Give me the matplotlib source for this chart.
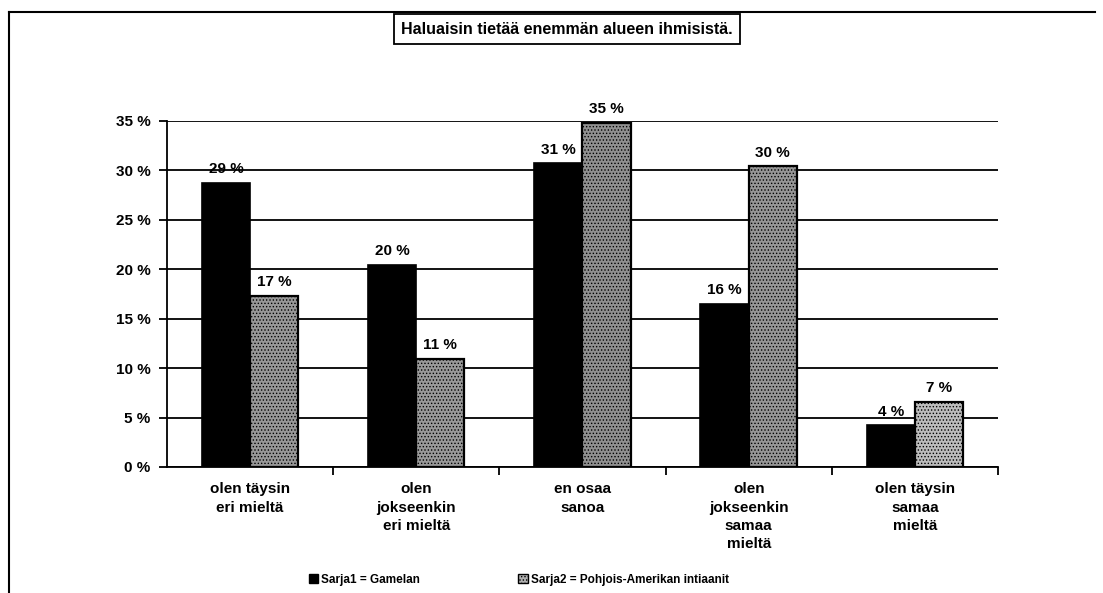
import matplotlib
matplotlib.use("Agg")
import matplotlib.pyplot as plt
from matplotlib.lines import Line2D
from matplotlib.patches import Patch
from matplotlib.ticker import FixedLocator, FuncFormatter
import numpy as np

plt.rcParams['font.family'] = ['Liberation Sans', 'DejaVu Sans']
plt.rcParams['font.weight'] = 'bold'
plt.rcParams['hatch.linewidth'] = 0.6

title = "Haluaisin tietää enemmän alueen ihmisistä."
categories = [
    "olen täysin\neri mieltä",
    "olen\njokseenkin\neri mieltä",
    "en osaa\nsanoa",
    "olen\njokseenkin\nsamaa\nmieltä",
    "olen täysin\nsamaa\nmieltä",
]
series_names = ["Sarja1 = Gamelan", "Sarja2 = Pohjois-Amerikan intiaanit"]
sarja1 = [28.7, 20.4, 30.7, 16.5, 4.2]
sarja2 = [17.3, 10.9, 34.8, 30.4, 6.6]
y_ticks = [0, 5, 10, 15, 20, 25, 30, 35]

fig = plt.figure(figsize=(11.03, 5.93), dpi=100)
fig.patch.set_facecolor('white')
ax = fig.add_axes([0.1514, 0.2125, 0.7534, 0.5835])

x = np.arange(len(categories))
w = 0.29
gray_faces = ['#989898', '#999999', '#909090', '#969696', '#bcbcbc']

b1 = ax.bar(x - w / 2, sarja1, width=w, color='black', edgecolor='black',
            linewidth=1.2, zorder=3)
b2 = ax.bar(x + w / 2, sarja2, width=w, color=gray_faces, edgecolor='black',
            linewidth=1.6, hatch='.....', zorder=3)

# value labels above every bar
for bars, vals in ((b1, sarja1), (b2, sarja2)):
    for bar, v in zip(bars, vals):
        ax.annotate(f"{v:.0f} %", (bar.get_x() + bar.get_width() / 2, v),
                    xytext=(0, 5), textcoords='offset points',
                    ha='center', va='bottom', fontsize=11, fontweight='bold')

ax.set_xlim(-0.5, len(categories) - 0.5)
ax.set_ylim(0, 35)
ax.yaxis.set_major_locator(FixedLocator(y_ticks))
ax.yaxis.set_major_formatter(FuncFormatter(lambda v, _: f"{v:.0f} %"))
ax.yaxis.grid(True, color='black', linewidth=1.3)
ax.set_axisbelow(True)

ax.set_xticks(x)
ax.set_xticklabels(categories, fontsize=11, fontweight='bold', linespacing=1.4)
ax.xaxis.set_minor_locator(FixedLocator(np.arange(0.5, len(categories), 1)))
ax.tick_params(axis='x', which='major', length=0, pad=11)
ax.tick_params(axis='x', which='minor', length=6, width=1.3, direction='out',
               color='black')
ax.tick_params(axis='y', length=6, width=1.3, direction='out', pad=6,
               labelsize=11)
for lbl in ax.get_yticklabels():
    lbl.set_fontweight('bold')

for side in ('top', 'right'):
    ax.spines[side].set_visible(False)
ax.spines['left'].set_linewidth(1.3)
ax.spines['bottom'].set_linewidth(1.3)

# outer chart frame
fig.add_artist(Line2D([9 / 1103, 9 / 1103], [0, 1 - 12 / 593],
                      transform=fig.transFigure, color='black', linewidth=1.5))
fig.add_artist(Line2D([9 / 1103, 1095 / 1103], [1 - 12 / 593, 1 - 12 / 593],
                      transform=fig.transFigure, color='black', linewidth=1.5))

# boxed title
fig.text(567 / 1103, 1 - 29 / 593, title, ha='center', va='center',
         fontsize=11.5, fontweight='bold',
         bbox=dict(boxstyle='square,pad=0.45', facecolor='white',
                   edgecolor='black', linewidth=1.3))

handles = [Patch(facecolor='black', edgecolor='black'),
           Patch(facecolor='#b0b0b0', edgecolor='black', hatch='.....')]
fig.legend(handles, series_names, loc='center left',
           bbox_to_anchor=(309 / 1103, 1 - 580 / 593),
           ncol=2, frameon=False, prop={'weight': 'bold', 'size': 8.5},
           borderaxespad=0, borderpad=0,
           handlelength=0.8, handleheight=0.8, handletextpad=0.25,
           columnspacing=8.3)

fig.savefig("out.png", dpi=100, facecolor='white')
